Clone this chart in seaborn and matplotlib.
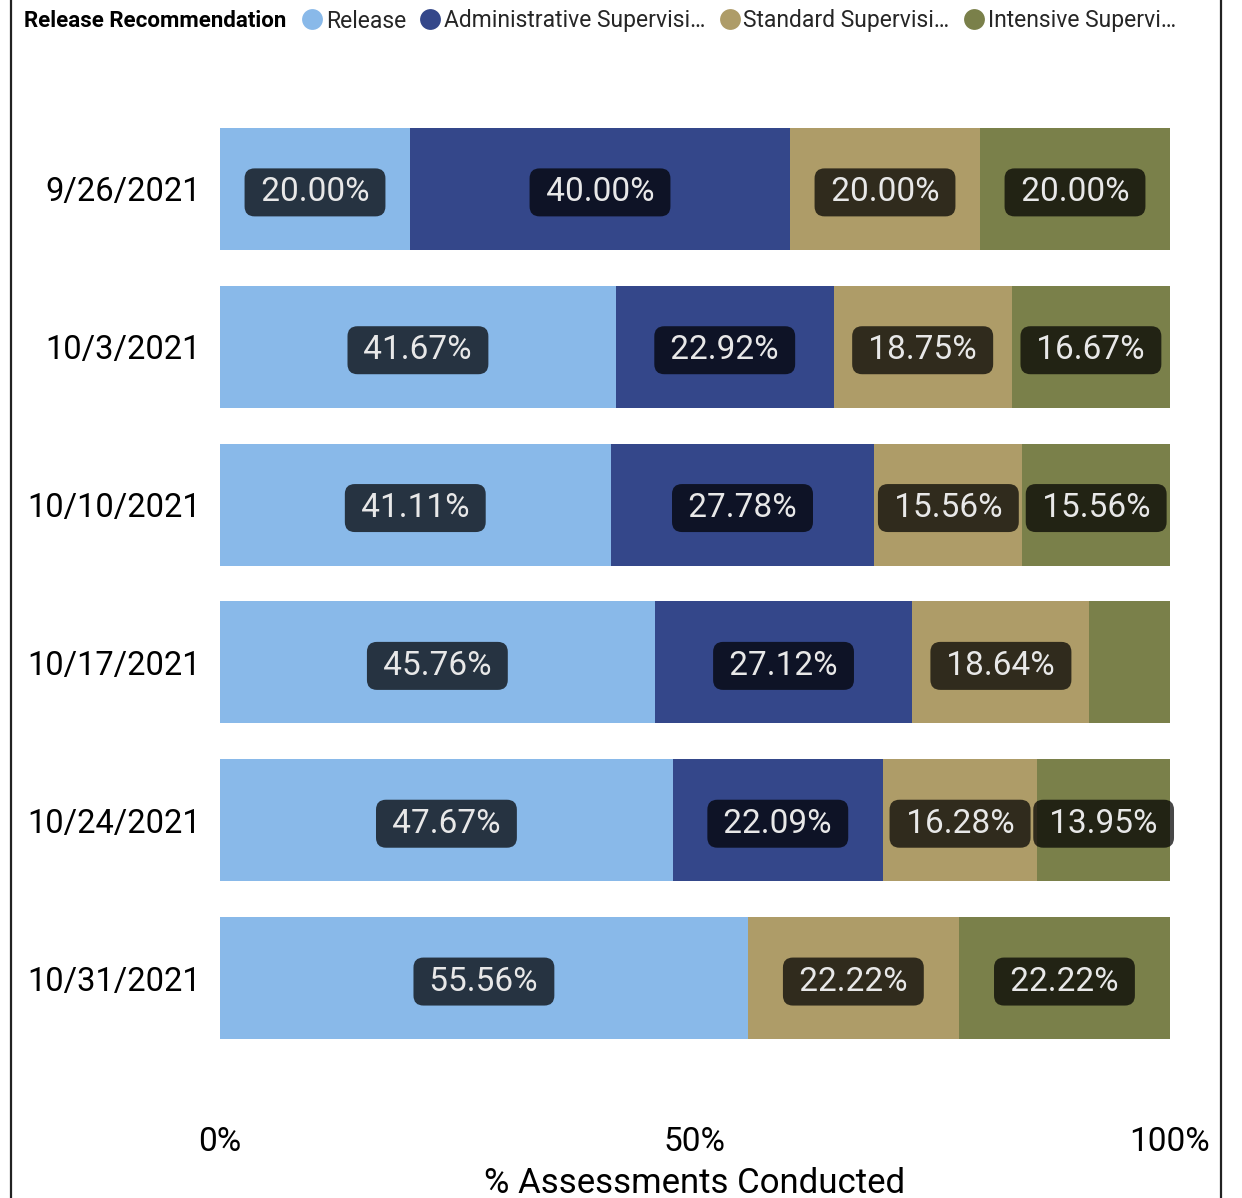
import matplotlib
matplotlib.use("Agg")
import matplotlib.pyplot as plt
import matplotlib.transforms as mtransforms
from matplotlib.lines import Line2D
import seaborn as sns
import pandas as pd
import numpy as np

# ---- data ----
dates = ["9/26/2021", "10/3/2021", "10/10/2021", "10/17/2021", "10/24/2021", "10/31/2021"]
series = ["Release", "Administrative Supervision", "Standard Supervision", "Intensive Supervision"]
legend_labels = ["Release", "Administrative Supervisi…", "Standard Supervisi…", "Intensive Supervi…"]
release = [20.00, 41.67, 41.11, 45.76, 47.67, 55.56]
administrative = [40.00, 22.92, 27.78, 27.12, 22.09, 0.00]
standard = [20.00, 18.75, 15.56, 18.64, 16.28, 22.22]
intensive = [20.00, 16.67, 15.56, 8.47, 13.95, 22.22]
colors = ["#89B9E9", "#34478A", "#AE9C68", "#7A804A"]
xticks = [0, 50, 100]
xtick_labels = ["0%", "50%", "100%"]

sns.set_style("white")
plt.rcParams["font.family"] = ["Roboto", "DejaVu Sans"]

W, H = 1242, 1198
fig = plt.figure(figsize=(W / 100, H / 100), dpi=100)
ax = fig.add_axes([220 / W, 1 - 1057 / H, 950 / W, (1057 - 110) / H])

vals = np.array([release, administrative, standard, intensive])
cum = np.cumsum(vals, axis=0)
df = pd.DataFrame({"date": dates})
for i, s in enumerate(series):
    df[s] = cum[i]

# draw from the largest cumulative to the smallest so that each layer shows its segment
for i in range(len(series) - 1, -1, -1):
    sns.barplot(data=df, x=series[i], y="date", order=dates, orient="h",
                color=colors[i], saturation=1, width=0.772, ax=ax,
                linewidth=0, edgecolor="none")

# labels
lab_tr = mtransforms.offset_copy(ax.transData, fig=fig, x=0, y=-2.5, units="points")
for i in range(len(series)):
    for j in range(len(dates)):
        v = vals[i, j]
        if v < 10:
            continue
        cx = cum[i, j] - v / 2
        ax.text(cx, j, f" {v:.2f}% ", ha="center", va="center", fontsize=24,
                color="#E8E8E8", transform=lab_tr,
                bbox=dict(boxstyle="round,pad=0.24,rounding_size=0.3",
                          facecolor=(0, 0, 0, 0.72), edgecolor="none"))

ax.set_xlim(0, 100)
ax.set_ylim(len(dates) - 0.5, -0.5)
ax.set_xticks(xticks)
ax.set_xticklabels(xtick_labels, fontsize=24, color="black")
ax.tick_params(axis="x", length=0, pad=50)
ax.tick_params(axis="y", length=0, pad=14, labelsize=23.5, labelcolor="black")
ax.set_ylabel("")
ax.set_xlabel("% Assessments Conducted", fontsize=25, color="black", labelpad=6)
for sp in ax.spines.values():
    sp.set_visible(False)

# legend header
fig.text(24 / W, 1 - 21 / H, "Release Recommendation", fontsize=16, weight="bold",
         ha="left", va="center", color="black")
handles = [Line2D([], [], marker="o", linestyle="", markersize=15, color=c,
                  markeredgewidth=0) for c in colors]
fig.legend(handles, legend_labels, loc="center left",
           bbox_to_anchor=(302 / W, 1 - 21 / H), ncol=4, frameon=False,
           handlelength=0.9, handletextpad=0.15, columnspacing=0.6,
           borderpad=0, borderaxespad=0, fontsize=16.5)

# frame lines
fig.add_artist(Line2D([11 / W, 11 / W], [0, 1], color="#222222", linewidth=1.6))
fig.add_artist(Line2D([1221 / W, 1221 / W], [0, 1], color="#222222", linewidth=1.6))

fig.savefig("out.png", dpi=100)
